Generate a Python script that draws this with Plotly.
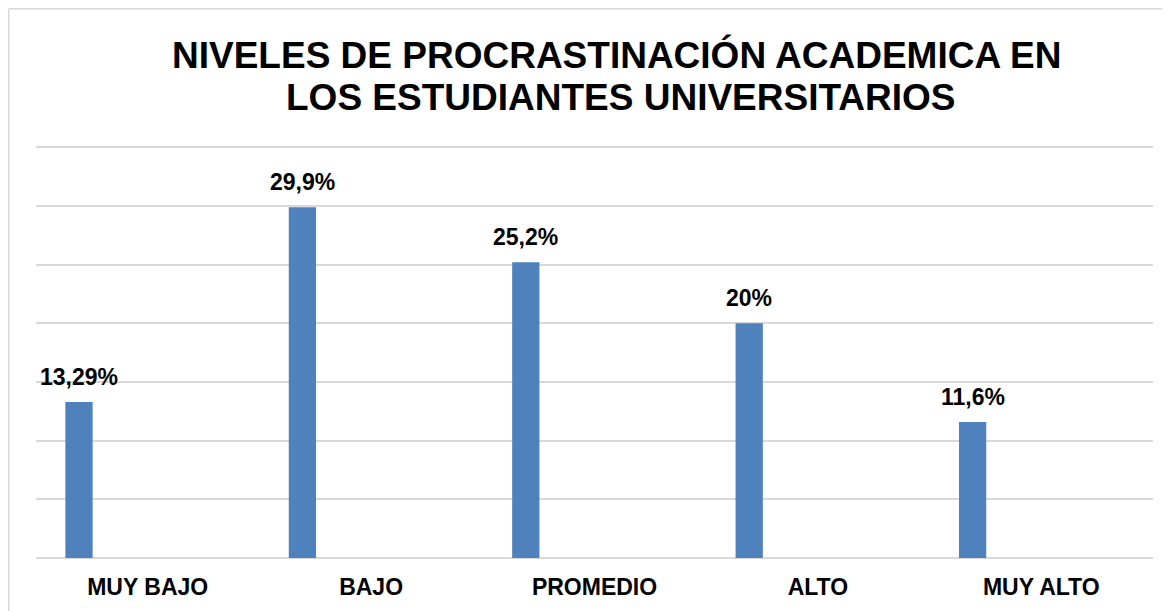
import plotly.graph_objects as go

categories = ["MUY BAJO", "BAJO", "PROMEDIO", "ALTO", "MUY ALTO"]
values = [13.29, 29.9, 25.2, 20, 11.6]
value_labels = ["13,29%", "29,9%", "25,2%", "20%", "11,6%"]
title_lines = ["NIVELES DE PROCRASTINACIÓN ACADEMICA EN", "LOS ESTUDIANTES UNIVERSITARIOS"]

FONT = "Liberation Sans, Arial, sans-serif"
BAR_COLOR = "#4F81BD"
GRID = "#D9D9D9"

# page has an 8px body margin; the figure is laid out so page positions match
PAGE_OFF = 8
W, H = 1162, 603
L, R, T, B = 28, 17, 137, 53
plot_w = W - L - R
plot_h = H - T - B

bar_width = 0.122
bar_offset = -0.3685
label_xshift = (bar_offset + bar_width / 2) * plot_w / len(categories)

fig = go.Figure()
fig.add_trace(go.Bar(
    x=categories, y=values,
    width=bar_width, offset=bar_offset,
    marker=dict(color=BAR_COLOR, line=dict(width=0)),
    hoverinfo="skip",
))

for c, v, t in zip(categories, values, value_labels):
    fig.add_annotation(
        x=c, y=v, xref="x", yref="y", text="<b>" + t + "</b>", showarrow=False,
        xanchor="center", yanchor="bottom", xshift=label_xshift, yshift=10,
        font=dict(family=FONT, size=23, color="#000000"),
    )

def px_to_paper_x(px):
    return (px - PAGE_OFF - L) / plot_w

def px_to_paper_y(py):
    return (H - B - (py - PAGE_OFF)) / plot_h

title_pos = [(616, 78), (621, 120.5)]
for line, (cx, by) in zip(title_lines, title_pos):
    fig.add_annotation(
        x=px_to_paper_x(cx), y=px_to_paper_y(by), xref="paper", yref="paper",
        text="<b>" + line + "</b>", showarrow=False,
        xanchor="center", yanchor="bottom",
        font=dict(family=FONT, size=37, color="#000000"),
    )

# chart area border (left and top edges visible)
edge = PAGE_OFF + 0.75
fig.add_shape(type="line", xref="paper", yref="paper",
              x0=px_to_paper_x(edge), x1=px_to_paper_x(edge),
              y0=px_to_paper_y(edge), y1=px_to_paper_y(H + 20),
              line=dict(color=GRID, width=1.5))
fig.add_shape(type="line", xref="paper", yref="paper",
              x0=px_to_paper_x(edge), x1=px_to_paper_x(W + 20),
              y0=px_to_paper_y(edge), y1=px_to_paper_y(edge),
              line=dict(color=GRID, width=1.5))

fig.update_layout(
    width=W, height=H,
    margin=dict(l=L, r=R, t=T, b=B, pad=0),
    paper_bgcolor="white", plot_bgcolor="white",
    showlegend=False,
    font=dict(family=FONT, color="#000000"),
    xaxis=dict(
        type="category", showgrid=False, showline=False, zeroline=False,
        ticks="", ticklabelstandoff=13,
        tickfont=dict(family=FONT, size=23, color="#000000"),
        tickprefix="<b>", ticksuffix="</b>",
    ),
    yaxis=dict(
        range=[0, 35.2], dtick=5, tick0=0, showticklabels=False,
        showgrid=True, gridcolor=GRID, gridwidth=1.5,
        zeroline=True, zerolinecolor=GRID, zerolinewidth=1.5,
        showline=False, ticks="",
    ),
)

fig.write_html("out.html")
